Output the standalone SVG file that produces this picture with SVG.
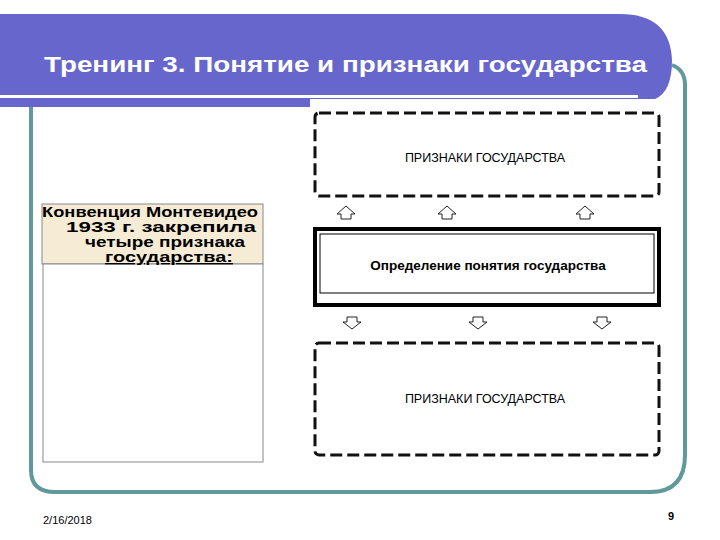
<svg xmlns="http://www.w3.org/2000/svg" width="720" height="540" viewBox="0 0 720 540">
<style>
.dash{fill:#fff;stroke:#111;stroke-width:3;stroke-dasharray:12 5}
.t{font-family:"Liberation Sans",Arial,sans-serif;fill:#000}
.arr{fill:#fff;stroke:#222;stroke-width:1}
</style>
<rect width="720" height="540" fill="#fff"/>
<g id="frame">
<path d="M31 100 V470 Q31 492 55 492 H650 Q685 492 685 455 V85 Q685 70 672 65" fill="none" stroke="#5f9999" stroke-width="4"/>
</g>
<g id="header">
<path d="M0 14 H620 Q670 14 672 60 Q672 92 655 99 H0 Z" fill="#6666cc"/>
<rect x="0" y="95" width="638" height="3" fill="#fff"/>
<rect x="0" y="98" width="310" height="9" fill="#6666cc"/>
<text x="44" y="72" class="t" font-size="22" font-weight="bold" style="fill:#fff" textLength="603" lengthAdjust="spacingAndGlyphs">Тренинг 3. Понятие и признаки государства</text>
</g>
<g id="convention">
<rect x="42" y="204" width="221" height="60" fill="#f6ecd6" stroke="#888" stroke-width="1"/>
<rect x="43" y="264" width="220" height="198" fill="#fff" stroke="#888" stroke-width="1"/>
<g class="t" font-size="14" font-weight="bold" text-anchor="middle" lengthAdjust="spacingAndGlyphs">
<text x="150" y="217" textLength="216" lengthAdjust="spacingAndGlyphs">Конвенция Монтевидео</text>
<text x="161" y="232" textLength="190" lengthAdjust="spacingAndGlyphs">1933 г. закрепила</text>
<text x="165" y="247" textLength="160" lengthAdjust="spacingAndGlyphs">четыре признака</text>
<text x="169" y="262" textLength="128" lengthAdjust="spacingAndGlyphs" text-decoration="underline">государства:</text>
</g>
</g>
<g id="top">
<rect x="315" y="113" width="344" height="83" rx="4" class="dash"/>
<text x="485" y="162" class="t" font-size="12.5" text-anchor="middle">ПРИЗНАКИ ГОСУДАРСТВА</text>
</g>
<g id="middle">
<rect x="315" y="229" width="344" height="76" fill="#fff" stroke="#000" stroke-width="4"/>
<rect x="320" y="234" width="334" height="59" fill="none" stroke="#000" stroke-width="1"/>
<text x="488" y="270" class="t" font-size="13.5" font-weight="bold" text-anchor="middle">Определение понятия государства</text>
</g>
<g id="bottom">
<rect x="315" y="343" width="344" height="112" rx="4" class="dash"/>
<text x="485" y="403" class="t" font-size="12.5" text-anchor="middle">ПРИЗНАКИ ГОСУДАРСТВА</text>
</g>
<g id="connectors">
<path class="arr" d="M346 206 L355 214 H351 V219 H341 V214 H337 Z"/>
<path class="arr" d="M447 206 L456 214 H452 V219 H442 V214 H438 Z"/>
<path class="arr" d="M585 206 L594 214 H590 V219 H580 V214 H576 Z"/>
<path class="arr" d="M352 329 L361 322 H357 V317 H347 V322 H343 Z"/>
<path class="arr" d="M478 329 L487 322 H483 V317 H473 V322 H469 Z"/>
<path class="arr" d="M602 329 L611 322 H607 V317 H597 V322 H593 Z"/>
</g>
<text x="43" y="524" class="t" font-size="11">2/16/2018</text>
<text x="668" y="520" class="t" font-size="11" font-weight="bold">9</text>
</svg>
